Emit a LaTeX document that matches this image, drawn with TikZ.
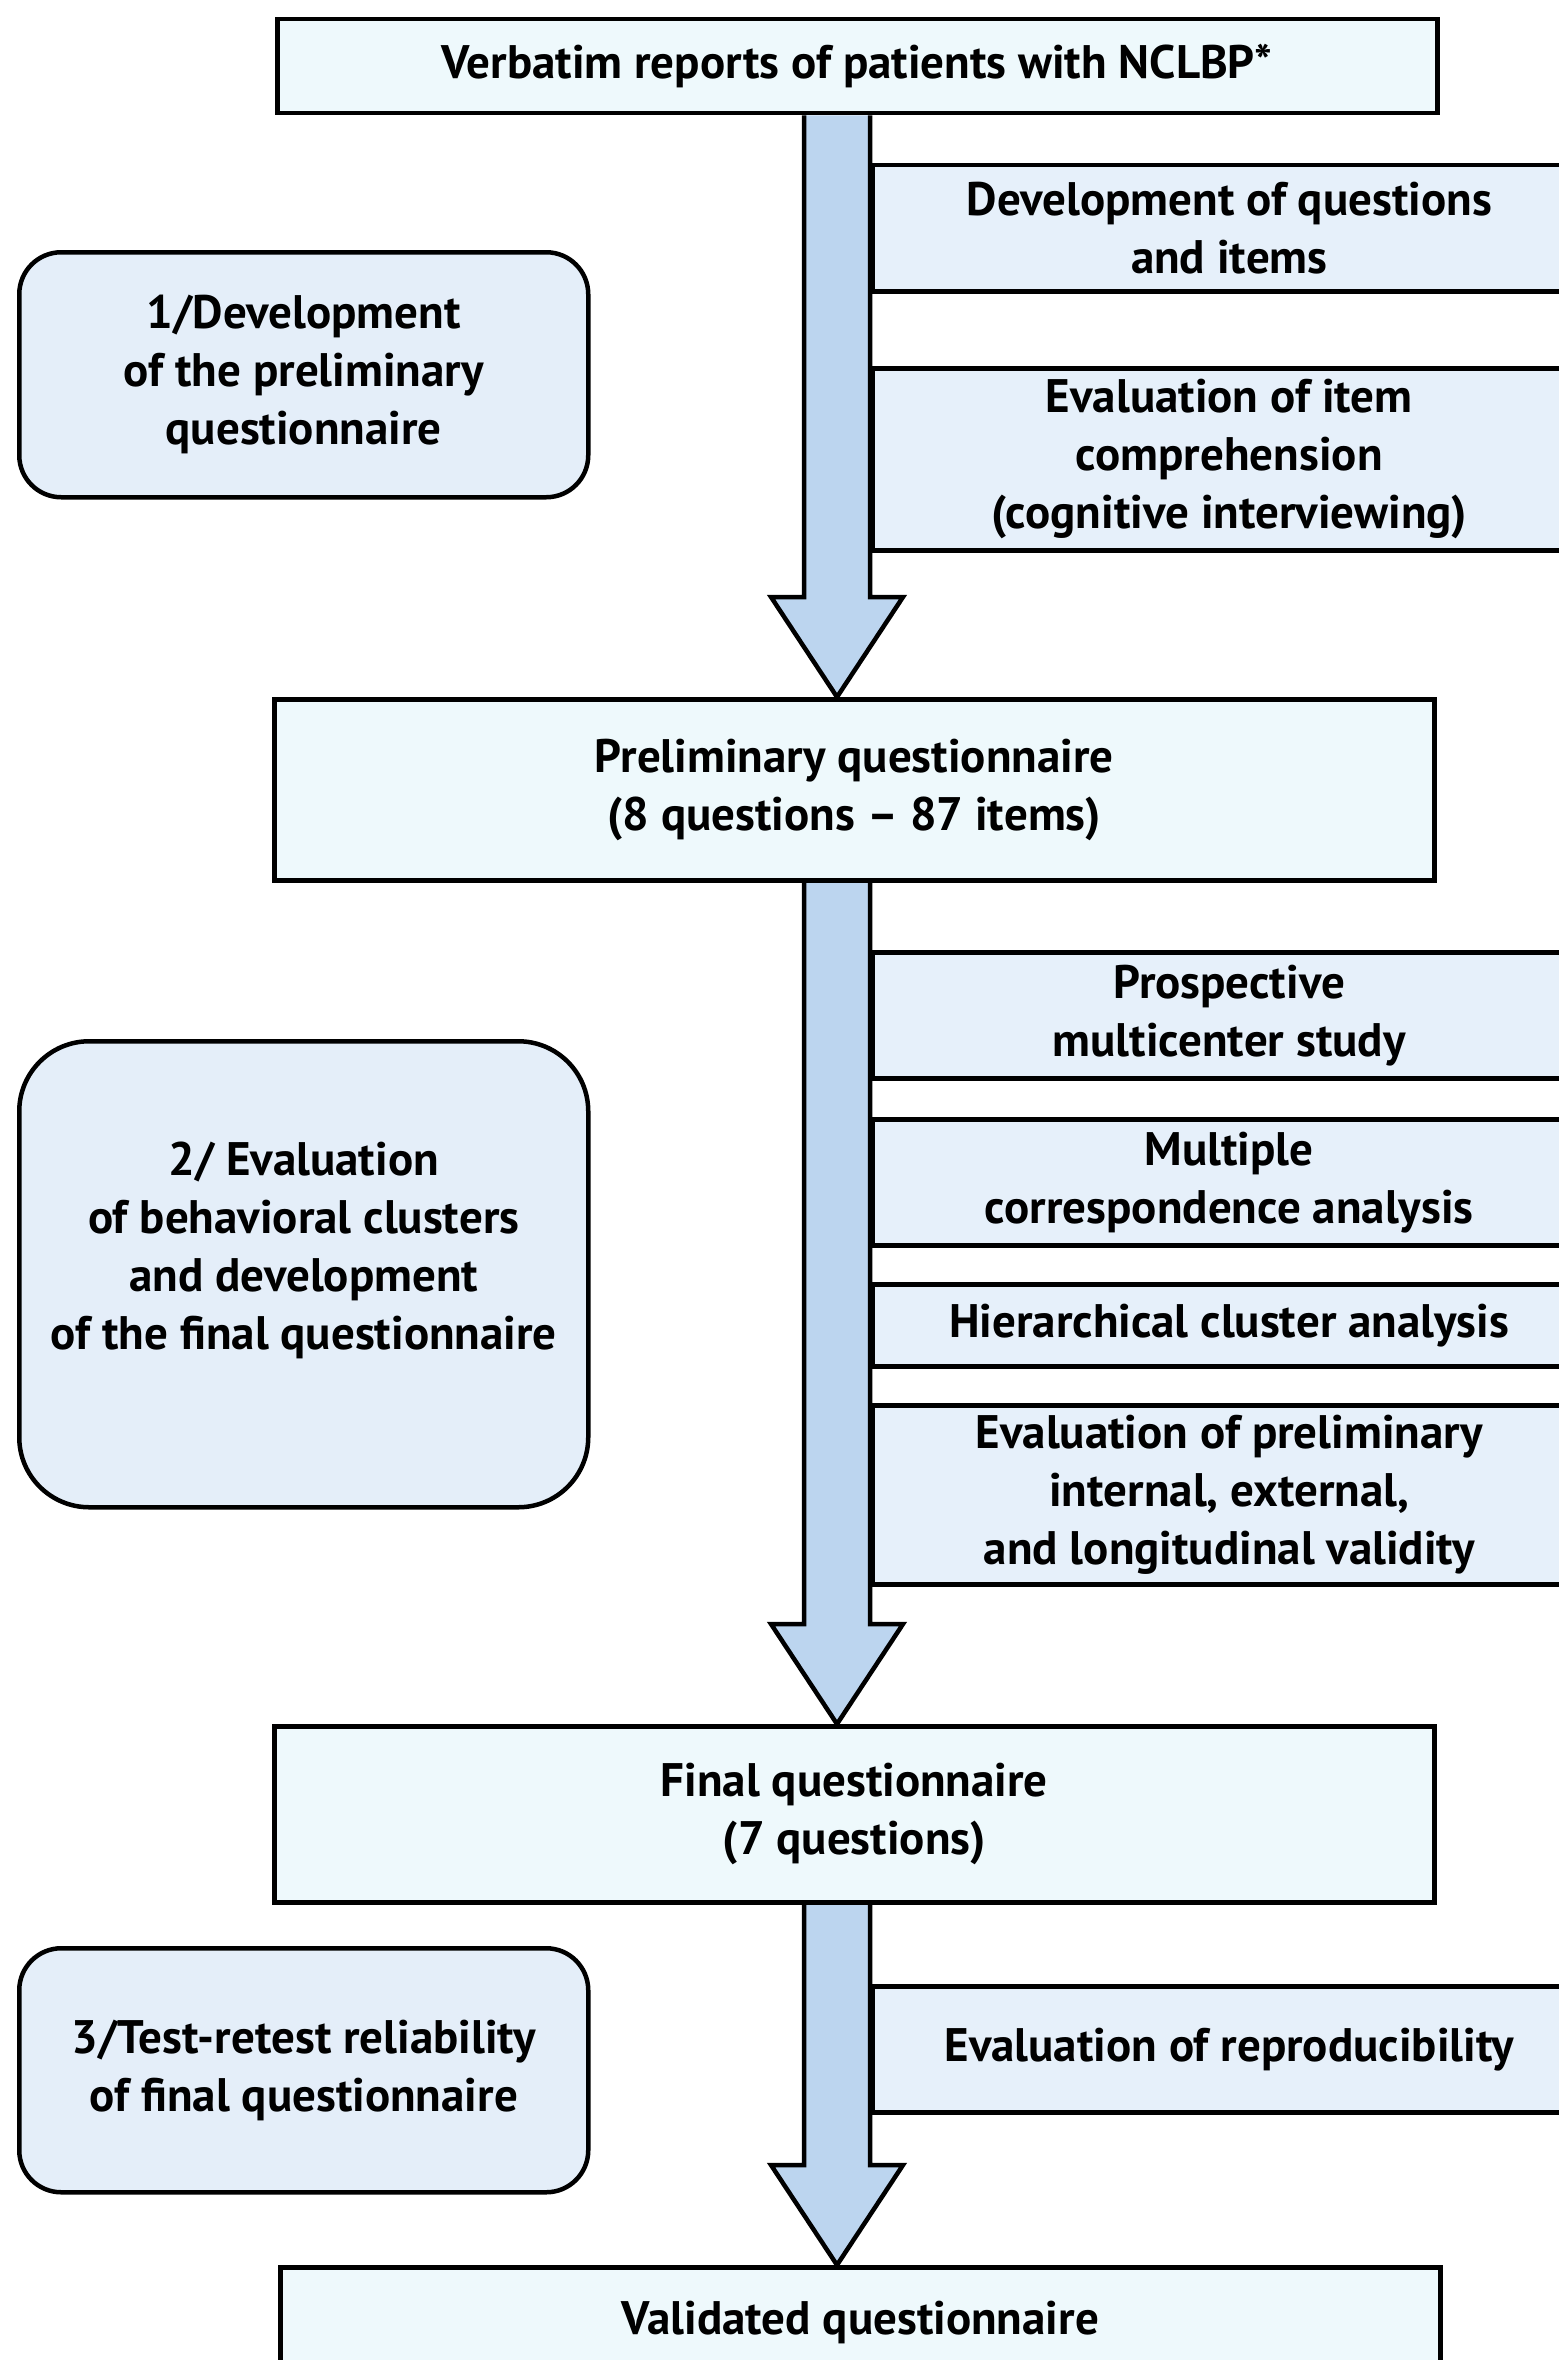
\documentclass[tikz,border=0pt]{standalone}
\usepackage{fontspec}
\setmainfont{PT Sans}
\usetikzlibrary{calc}
\definecolor{mainfill}{HTML}{EEF9FC}
\definecolor{sidefill}{HTML}{E6F0FA}
\definecolor{stagefill}{HTML}{E4EEF9}
\definecolor{arrowfill}{HTML}{BCD5EF}
\tikzset{
  base/.style={draw=black, line width=4.5pt, align=center, inner sep=0pt,
    font=\bfseries\fontsize{47}{58}\selectfont, anchor=north west},
  mainbox/.style={base, fill=mainfill, minimum width=1160pt},
  sidebox/.style={base, fill=sidefill, minimum width=714pt},
  stagebox/.style={base, fill=stagefill, minimum width=569pt, rounded corners=42pt},
  stagetext/.style={align=center, inner sep=0pt, font=\bfseries\fontsize{47}{58}\selectfont},
  flow/.style={draw=black, fill=arrowfill, line width=4.5pt, line join=miter},
}
\newcommand\flowarrow[2]{%
  \path[flow] let \p1=($(#1.south -| ax)$), \p2=($(#2.north -| ax)$) in
    (\x1-33pt,\y1) -- (\x1-33pt,\y2+100pt) -- (\x1-66pt,\y2+100pt) -- (\x2,\y2)
    -- (\x1+66pt,\y2+100pt) -- (\x1+33pt,\y2+100pt) -- (\x1+33pt,\y1);}
\begin{document}
\begin{tikzpicture}[x=1pt,y=-1pt]
\useasboundingbox (0,0) rectangle (1558,2360);
\fill[white] (0,0) rectangle (1558,2360);
\coordinate (ax) at (837,0);

% main boxes (positions only, drawn later above arrows)
\path (275,17) node[mainbox, minimum height=94pt, draw=none, fill=none] (top) {};
\path (272,697) node[mainbox, minimum height=181pt, draw=none, fill=none] (prelim) {};
\path (272,1724) node[mainbox, minimum height=176pt, draw=none, fill=none] (final) {};
\path (278,2265) node[mainbox, minimum height=110pt, draw=none, fill=none] (valid) {};

% arrows
\flowarrow{top}{prelim}
\flowarrow{prelim}{final}
\flowarrow{final}{valid}

% main boxes
\node[mainbox, minimum height=94pt] (topb) at (275,17) {Verbatim reports of patients with NCLBP*};
\node[mainbox, minimum height=181pt] (prelimb) at (272,697) {Preliminary questionnaire\\(8 questions -- 87 items)};
\node[mainbox, minimum height=176pt] (finalb) at (272,1724) {Final questionnaire\\(7 questions)};
\node[mainbox, minimum height=110pt] (validb) at (278,2265) {Validated questionnaire};

% side boxes
\node[sidebox, minimum height=126pt] (s1) at (870,163) {Development of questions\\and items};
\node[sidebox, minimum height=182pt] (s2) at (870,366) {Evaluation of item\\comprehension\\(cognitive interviewing)};
\node[sidebox, minimum height=126pt] (s3) at (870,950) {Prospective\\multicenter study};
\node[sidebox, minimum height=126pt] (s4) at (870,1117) {Multiple\\correspondence analysis};
\node[sidebox, minimum height=82pt] (s5) at (870,1282) {Hierarchical cluster analysis};
\node[sidebox, minimum height=179pt] (s6) at (870,1403) {Evaluation of preliminary\\internal, external,\\and longitudinal validity};
\node[sidebox, minimum height=126pt] (s7) at (870,1984) {Evaluation of reproducibility};

% stage boxes
\node[stagebox, minimum height=245pt] (st1) at (17,250) {1/Development\\of the preliminary\\questionnaire};
\node[stagebox, minimum height=466pt, rounded corners=70pt] (st2) at (17,1039) {};
\node[stagetext] (st2t) at ($(st2.center)+(0,-24)$) {2/ Evaluation\\of behavioral clusters\\and development\\of the final questionnaire};
\node[stagebox, minimum height=244pt] (st3) at (17,1946) {3/Test-retest reliability\\of final questionnaire};
\end{tikzpicture}
\end{document}
